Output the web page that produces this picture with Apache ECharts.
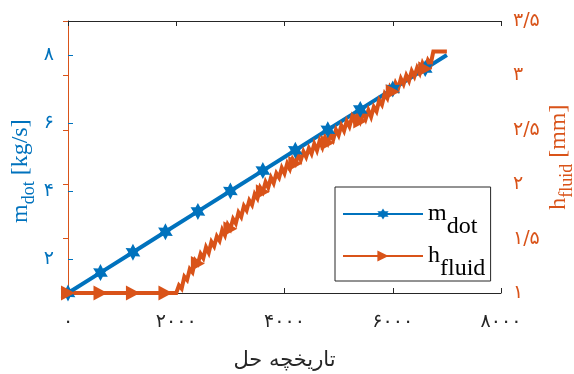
<!DOCTYPE html>
<html>
<head>
<meta charset="utf-8">
<script src="https://cdn.jsdelivr.net/npm/echarts@6/dist/echarts.min.js"></script>
<style>
html,body{margin:0;padding:0;background:#fff;overflow:hidden;width:574px;height:374px;}
#c{width:574px;height:374px;position:absolute;left:0;top:0;}
</style>
</head>
<body>
<div id="c"></div>
<script>
// ---- data ----
var xTicks = [0, 2000, 4000, 6000, 8000];
var xTickLabels = ['۰', '۲۰۰۰', '۴۰۰۰', '۶۰۰۰', '۸۰۰۰'];
var yLeftTicks = [2, 4, 6, 8];
var yLeftTickLabels = ['۲', '۴', '۶', '۸'];
var yRightTicks = [1, 1.5, 2, 2.5, 3, 3.5];
var yRightTickLabels = ['۱', '۱/۵', '۲', '۲/۵', '۳', '۳/۵'];
var xTitle = 'تاریخچه حل';

// m_dot series
var mX = [0, 600, 1200, 1800, 2400, 3000, 3600, 4200, 4800, 5400, 6000, 6600, 7000];
var mY = [1.0, 1.6, 2.2, 2.8, 3.4, 4.0, 4.6, 5.2, 5.8, 6.4, 7.0, 7.6, 8.0];
var mMarkX = [0, 600, 1200, 1800, 2400, 3000, 3600, 4200, 4800, 5400, 6000, 6600];

// h_fluid series
var hX = [0, 600, 1200, 1800, 2000,
  2050, 2100, 2150, 2200, 2250, 2300, 2350, 2400,
  2450, 2500, 2550, 2600, 2650, 2700, 2750, 2800, 2850, 2900, 2950, 3000,
  3050, 3100, 3150, 3200, 3250, 3300, 3350, 3400, 3450, 3500, 3550, 3600,
  3650, 3700, 3750, 3800, 3850, 3900, 3950, 4000, 4050, 4100, 4150, 4200,
  4250, 4300, 4350, 4400, 4450, 4500, 4550, 4600, 4650, 4700, 4750, 4800,
  4850, 4900, 4950, 5000, 5050, 5100, 5150, 5200, 5250, 5300,
  5350, 5400, 5450, 5500, 5550, 5600,
  5650, 5700, 5750, 5800, 5850, 5900, 5950, 6000,
  6050, 6100, 6150, 6200, 6250, 6300, 6350, 6400, 6450, 6500, 6550, 6600,
  6650, 6700, 6750, 6800, 7000];
var hY = [1.00, 1.00, 1.00, 1.00, 1.00,
  1.07, 1.04, 1.15, 1.12, 1.22, 1.19, 1.30, 1.27,
  1.36, 1.32, 1.42, 1.37, 1.47, 1.43, 1.52, 1.48, 1.58, 1.53, 1.63, 1.59,
  1.68, 1.64, 1.74, 1.70, 1.80, 1.76, 1.85, 1.81, 1.91, 1.87, 1.97, 1.93,
  2.02, 1.97, 2.06, 2.01, 2.10, 2.06, 2.15, 2.10, 2.19, 2.14, 2.23, 2.19,
  2.27, 2.22, 2.30, 2.25, 2.33, 2.28, 2.37, 2.31, 2.40, 2.34, 2.43, 2.38,
  2.46, 2.41, 2.50, 2.45, 2.54, 2.49, 2.58, 2.53, 2.62, 2.57,
  2.64, 2.58, 2.66, 2.60, 2.68, 2.62,
  2.71, 2.67, 2.77, 2.73, 2.83, 2.79, 2.89, 2.85,
  2.93, 2.88, 2.97, 2.92, 3.00, 2.95, 3.04, 2.99, 3.07, 3.02, 3.11, 3.06,
  3.14, 3.10, 3.22, 3.22, 3.22];
var hMarkX = [0, 600, 1200, 1800, 2400, 3000, 3600, 4200, 4800, 5400, 6000, 6600];

// ---- styling ----
var BLUE = '#0072BD';
var ORANGE = '#D95319';
var DARK = '#262626';
var SERIF = '"Liberation Serif", "DejaVu Serif", serif';
var PFONT = '"DejaVu Sans", sans-serif';
var STAR = 'path://M10,0L12.75,5.24L18.66,5L15.5,10L18.66,15L12.75,14.76L10,20L7.25,14.76L1.34,15L4.5,10L1.34,5L7.25,5.24Z';
var TRI = 'path://M0,0L10,5.5L0,11Z';

function pairs(xs, ys) {
  return xs.map(function (x, i) { return [x, ys[i]]; });
}

var chart = echarts.init(document.getElementById('c'), null, {renderer: 'canvas', width: 574, height: 374});
var option = {
  animation: false,
  backgroundColor: '#fff',
  grid: {left: 68, right: 73, top: 21, bottom: 81, containLabel: false, outerBoundsMode: 'none'},
  xAxis: [{
    type: 'value', position: 'bottom', min: 0, max: 8000, interval: 2000,
    axisLine: {show: true, lineStyle: {color: DARK, width: 1}},
    axisTick: {show: true, inside: true, length: 5, lineStyle: {color: DARK}},
    splitLine: {show: false},
    axisLabel: {
      margin: 20, color: DARK, fontSize: 19, fontFamily: PFONT,
      formatter: function (v) { var i = xTicks.indexOf(v); return i >= 0 ? xTickLabels[i] : ''; }
    },
    name: xTitle, nameLocation: 'middle', nameGap: 57, nameMoveOverlap: false,
    nameTextStyle: {color: DARK, fontSize: 21, fontFamily: PFONT}
  }, {
    type: 'value', position: 'top', min: 0, max: 8000, interval: 2000,
    axisLine: {show: true, lineStyle: {color: DARK, width: 1}},
    axisTick: {show: true, inside: true, length: 5, lineStyle: {color: DARK}},
    splitLine: {show: false},
    axisLabel: {show: false}
  }],
  yAxis: [{
    type: 'value', position: 'left', min: 1, max: 9,
    axisLine: {show: true, lineStyle: {color: BLUE, width: 1}},
    axisTick: {show: true, inside: true, length: 5, lineStyle: {color: BLUE}, customValues: yLeftTicks},
    splitLine: {show: false},
    axisLabel: {
      margin: 14, color: BLUE, fontSize: 19, fontFamily: PFONT, customValues: yLeftTicks,
      formatter: function (v) { var i = yLeftTicks.indexOf(v); return i >= 0 ? yLeftTickLabels[i] : ''; }
    },
    name: '{a|m}{b|dot}{a| [kg/s]}{s| }', nameLocation: 'middle', nameRotate: 90, nameGap: 30, nameMoveOverlap: false,
    nameTextStyle: {
      color: BLUE, padding: [0, 28, 0, 0],
      rich: {
        a: {fontFamily: SERIF, fontSize: 24, color: BLUE, verticalAlign: 'top', lineHeight: 24},
        b: {fontFamily: SERIF, fontSize: 18, color: BLUE, verticalAlign: 'bottom', lineHeight: 18},
        s: {fontSize: 1, lineHeight: 29}
      }
    }
  }, {
    type: 'value', position: 'right', min: 1, max: 3.5, interval: 0.5,
    axisLine: {show: true, lineStyle: {color: ORANGE, width: 1}},
    axisTick: {show: true, inside: true, length: 5, lineStyle: {color: ORANGE}},
    splitLine: {show: false},
    axisLabel: {
      margin: 12, color: ORANGE, fontSize: 19, fontFamily: PFONT,
      formatter: function (v) {
        for (var i = 0; i < yRightTicks.length; i++) { if (Math.abs(yRightTicks[i] - v) < 1e-9) return yRightTickLabels[i]; }
        return '';
      }
    },
    name: '{a|h}{b|fluid}{a| [mm]}{s| }', nameLocation: 'middle', nameRotate: 90, nameGap: 46, nameMoveOverlap: false,
    nameTextStyle: {
      color: ORANGE,
      rich: {
        a: {fontFamily: SERIF, fontSize: 24, color: ORANGE, verticalAlign: 'top', lineHeight: 24},
        b: {fontFamily: SERIF, fontSize: 18, color: ORANGE, verticalAlign: 'bottom', lineHeight: 18},
        s: {fontSize: 1, lineHeight: 29}
      }
    }
  }],
  legend: {
    orient: 'vertical', left: 335, top: 187,
    padding: [15, 5, 0, 7],
    backgroundColor: '#fff', borderColor: DARK, borderWidth: 1, borderRadius: 0,
    itemWidth: 80, itemHeight: 14, itemGap: 5,
    data: ['m_dot', 'h_fluid'],
    formatter: function (name) { return name === 'm_dot' ? '{a|m}{b|dot}{s| }' : '{a|h}{b|fluid}{s| }'; },
    textStyle: {
      rich: {
        a: {fontFamily: SERIF, fontSize: 24, color: '#000', verticalAlign: 'middle', lineHeight: 24},
        b: {fontFamily: SERIF, fontSize: 24, color: '#000', verticalAlign: 'bottom', lineHeight: 24},
        s: {fontSize: 1, lineHeight: 50}
      }
    }
  },
  series: [{
    name: 'm_dot', type: 'line', xAxisIndex: 0, yAxisIndex: 0,
    data: pairs(mX, mY),
    symbol: STAR, symbolKeepAspect: true,
    symbolSize: function (v) { return mMarkX.indexOf(v[0]) >= 0 ? 17 : 0; },
    showSymbol: true,
    lineStyle: {color: BLUE, width: 4},
    itemStyle: {color: BLUE},
    emphasis: {disabled: true}
  }, {
    name: 'h_fluid', type: 'line', xAxisIndex: 0, yAxisIndex: 1,
    data: pairs(hX, hY),
    symbol: TRI,
    symbolSize: function (v) { return hMarkX.indexOf(v[0]) >= 0 ? [14, 15] : 0; },
    showSymbol: true,
    lineStyle: {color: ORANGE, width: 4, join: 'miter', miterLimit: 10},
    itemStyle: {color: ORANGE},
    emphasis: {disabled: true}
  }]
};
chart.setOption(option);
</script>
</body>
</html>
